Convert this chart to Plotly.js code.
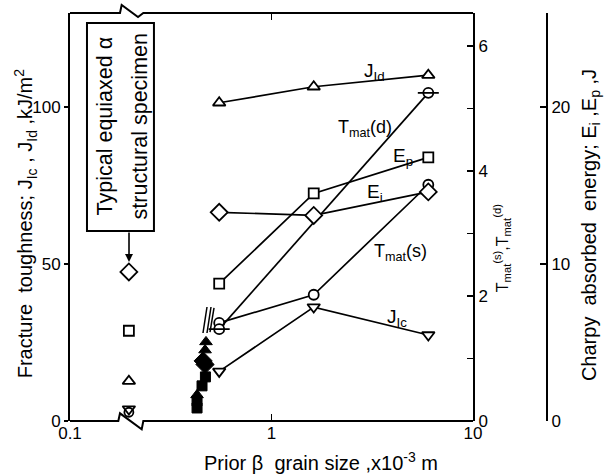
<!DOCTYPE html>
<html><head><meta charset="utf-8">
<script src="https://cdn.plot.ly/plotly-3.0.1.min.js"></script>
<style>html,body{margin:0;padding:0;background:#fff}</style>
</head><body><div id="chart" style="width:607px;height:476px"></div>
<script>
// ---- data ----
const grainSize = [0.55, 1.62, 6.0];
const grainSizeTmatD = [0.55, 6.0];
const jId = [101.4, 106.5, 110.2];      // kJ/m2, left axis
const jIc = [15.8, 36.3, 27.4];         // kJ/m2, left axis
const tmatS = [1.57, 2.02, 3.78];       // Tmat(s), middle axis
const tmatD = [1.47, 5.25];             // Tmat(d), middle axis
const eI = [13.3, 13.1, 14.6];          // J, Charpy axis
const eP = [8.75, 14.5, 16.8];          // J, Charpy axis

// typical equiaxed alpha structural specimen
const equiaxedX = [0.196];
const equiaxedJId = [12.7];
const equiaxedJIc = [3.8];
const equiaxedTmatS = [0.14];
const equiaxedEI = [9.5];
const equiaxedEP = [5.75];

// filled (fine) specimens cluster
const fineJIdX = [0.473, 0.468, 0.427];
const fineJId = [25.2, 22.6, 8.3];
const fineEIX = [0.458, 0.468];
const fineEI = [3.83, 3.6];
const fineEPX = [0.47, 0.452, 0.427, 0.427];
const fineEP = [2.81, 2.24, 1.28, 0.83];

// tick labels
const xTickVals = [0.1, 1, 10];
const xTickText = ['0.1', '1', '10'];
const leftTickVals = [0, 50, 100];
const tTickVals = [0, 1, 2, 3, 4, 5, 6];
const tTickText = ['0', '', '2', '', '4', '', '6'];
const charpyTickVals = [0, 10, 20];

// ---- styles ----
const openM = (sym, size) => ({symbol: sym, size: size || 11, color: 'white', line: {color: 'black', width: 1.8}});
const fillM = (sym, size) => ({symbol: sym, size: size || 11, color: 'black', line: {color: 'black', width: 1}});
const ln = {color: 'black', width: 1.7};

const traces = [
  {x: grainSize, y: jId, yaxis: 'y', mode: 'lines+markers', line: ln, marker: openM('triangle-up', 11)},
  {x: grainSize, y: jIc, yaxis: 'y', mode: 'lines+markers', line: ln, marker: openM('triangle-down', 11)},
  {x: equiaxedX, y: equiaxedJId, yaxis: 'y', mode: 'markers', marker: openM('triangle-up', 11)},
  {x: equiaxedX, y: equiaxedJIc, yaxis: 'y', mode: 'markers', marker: openM('triangle-down', 11)},
  {x: fineJIdX, y: fineJId, yaxis: 'y', mode: 'markers', marker: fillM('triangle-up', 11)},

  {x: grainSize, y: tmatS, yaxis: 'y2', mode: 'lines+markers', line: ln, marker: openM('circle', 10)},
  {x: grainSizeTmatD, y: tmatD, yaxis: 'y2', mode: 'lines+markers', line: ln, marker: openM('circle', 10)},
  {x: grainSizeTmatD, y: tmatD, yaxis: 'y2', mode: 'markers', marker: {symbol: 'line-ew-open', size: 15, color: 'black', line: {color: 'black', width: 1.8}}},
  {x: equiaxedX, y: equiaxedTmatS, yaxis: 'y2', mode: 'markers', marker: {symbol: 'circle-open', size: 9, color: 'black', line: {color: 'black', width: 1.8}}},

  {x: grainSize, y: eI, yaxis: 'y3', mode: 'lines+markers', line: ln, marker: openM('diamond', 13)},
  {x: grainSize, y: eP, yaxis: 'y3', mode: 'lines+markers', line: ln, marker: openM('square', 10)},
  {x: equiaxedX, y: equiaxedEI, yaxis: 'y3', mode: 'markers', marker: openM('diamond', 13)},
  {x: equiaxedX, y: equiaxedEP, yaxis: 'y3', mode: 'markers', marker: openM('square', 10)},
  {x: fineEIX, y: fineEI, yaxis: 'y3', mode: 'markers', marker: fillM('diamond', 14)},
  {x: fineEPX, y: fineEP, yaxis: 'y3', mode: 'markers', marker: fillM('square', 10)}
];

const XD = 0.8449;
const ax = {showgrid: false, zeroline: false, linecolor: 'black', tickcolor: 'black', tickwidth: 1.6, tickfont: {size: 17, color: 'black'}};

const ann = (x, y, text, size, extra) => Object.assign({xref: 'paper', yref: 'paper', x: x, y: y, text: text, showarrow: false, font: {size: size, color: 'black'}, xanchor: 'center', yanchor: 'middle'}, extra || {});

const layout = {
  width: 607, height: 476,
  margin: {l: 70, r: 60, t: 13, b: 55},
  paper_bgcolor: 'white', plot_bgcolor: 'rgba(0,0,0,0)',
  showlegend: false,
  font: {family: 'Liberation Sans, Arial, sans-serif', size: 17, color: 'black'},
  xaxis: Object.assign({}, ax, {type: 'log', range: [-1, 1], domain: [0, XD], tickvals: xTickVals, ticktext: xTickText,
    ticks: 'inside', ticklen: 7, showline: false, mirror: 'ticks'}),
  yaxis: Object.assign({}, ax, {range: [0, 130], tickvals: leftTickVals, ticks: 'outside', ticklen: 4, showline: true, linewidth: 2}),
  yaxis2: Object.assign({}, ax, {overlaying: 'y', side: 'right', anchor: 'x', range: [0, 6.528], tickvals: tTickVals, ticktext: tTickText,
    ticks: 'inside', ticklen: 6, showline: true, linewidth: 2}),
  yaxis3: Object.assign({}, ax, {overlaying: 'y', side: 'right', anchor: 'free', position: 1, range: [0, 26], tickvals: charpyTickVals,
    ticks: 'inside', ticklen: 6, showline: true, linewidth: 2}),
  shapes: [
    {type: 'path', xref: 'paper', yref: 'paper', path: 'M 0 1 L 0.1048 1 L 0.1083 1.0196 L 0.1426 0.9902 L 0.1537 1 L ' + XD + ' 1', line: {color: 'black', width: 2}},
    {type: 'path', xref: 'paper', yref: 'paper', path: 'M 0 0 L 0.1013 0 L 0.1048 0.0188 L 0.1503 -0.0204 L 0.1537 0 L ' + XD + ' 0', line: {color: 'black', width: 2}},
    {type: 'rect', xref: 'paper', yref: 'paper', x0: 0.0356, x1: 0.176, y0: 0.4657, y1: 0.9755, line: {color: 'black', width: 2}},
    {type: 'line', xref: 'paper', yref: 'paper', x0: 0.2788, y0: 0.2157, x1: 0.2872, y1: 0.2794, line: {color: 'black', width: 1.5}},
    {type: 'line', xref: 'paper', yref: 'paper', x0: 0.2872, y0: 0.2157, x1: 0.2956, y1: 0.2794, line: {color: 'black', width: 1.5}},
    {type: 'line', xref: 'paper', yref: 'paper', x0: 0.2935, y0: 0.2181, x1: 0.3019, y1: 0.2770, line: {color: 'black', width: 1.5}}
  ],
  annotations: [
    ann(0.526, -0.10, 'Prior β  grain size ,x10<sup>-3</sup> m', 20),
    ann(-0.094, 0.485, 'Fracture  toughness; J<sub>Ic</sub> , J<sub>Id</sub> ,kJ/m<sup>2</sup>', 20, {textangle: -90}),
    ann(0.906, 0.424, 'T<sub>mat</sub><sup>(s)</sup>,T<sub>mat</sub><sup>(d)</sup>', 16, {textangle: -90}),
    ann(1.09, 0.48, 'Charpy  absorbed  energy; E<sub>i</sub> ,E<sub>p</sub> ,J', 20, {textangle: -90}),
    ann(0.0734, 0.722, 'Typical equiaxed α', 21.5, {textangle: -90}),
    ann(0.1468, 0.722, 'structural specimen', 21.5, {textangle: -90}),
    {xref: 'paper', yref: 'paper', x: 0.1237, y: 0.39, ax: 0, ay: -31, text: '', showarrow: true, arrowhead: 2, arrowsize: 1, arrowwidth: 1.6, arrowcolor: 'black'},
    ann(0.639, 0.855, 'J<sub>Id</sub>', 19),
    ann(0.618, 0.718, 'T<sub>mat</sub>(d)', 18),
    ann(0.698, 0.647, 'E<sub>p</sub>', 19),
    ann(0.639, 0.559, 'E<sub>i</sub>', 19),
    ann(0.692, 0.412, 'T<sub>mat</sub>(s)', 18),
    ann(0.686, 0.252, 'J<sub>Ic</sub>', 19)
  ]
};

Plotly.newPlot('chart', traces, layout, {displayModeBar: false, staticPlot: true});
</script>
</body></html>
